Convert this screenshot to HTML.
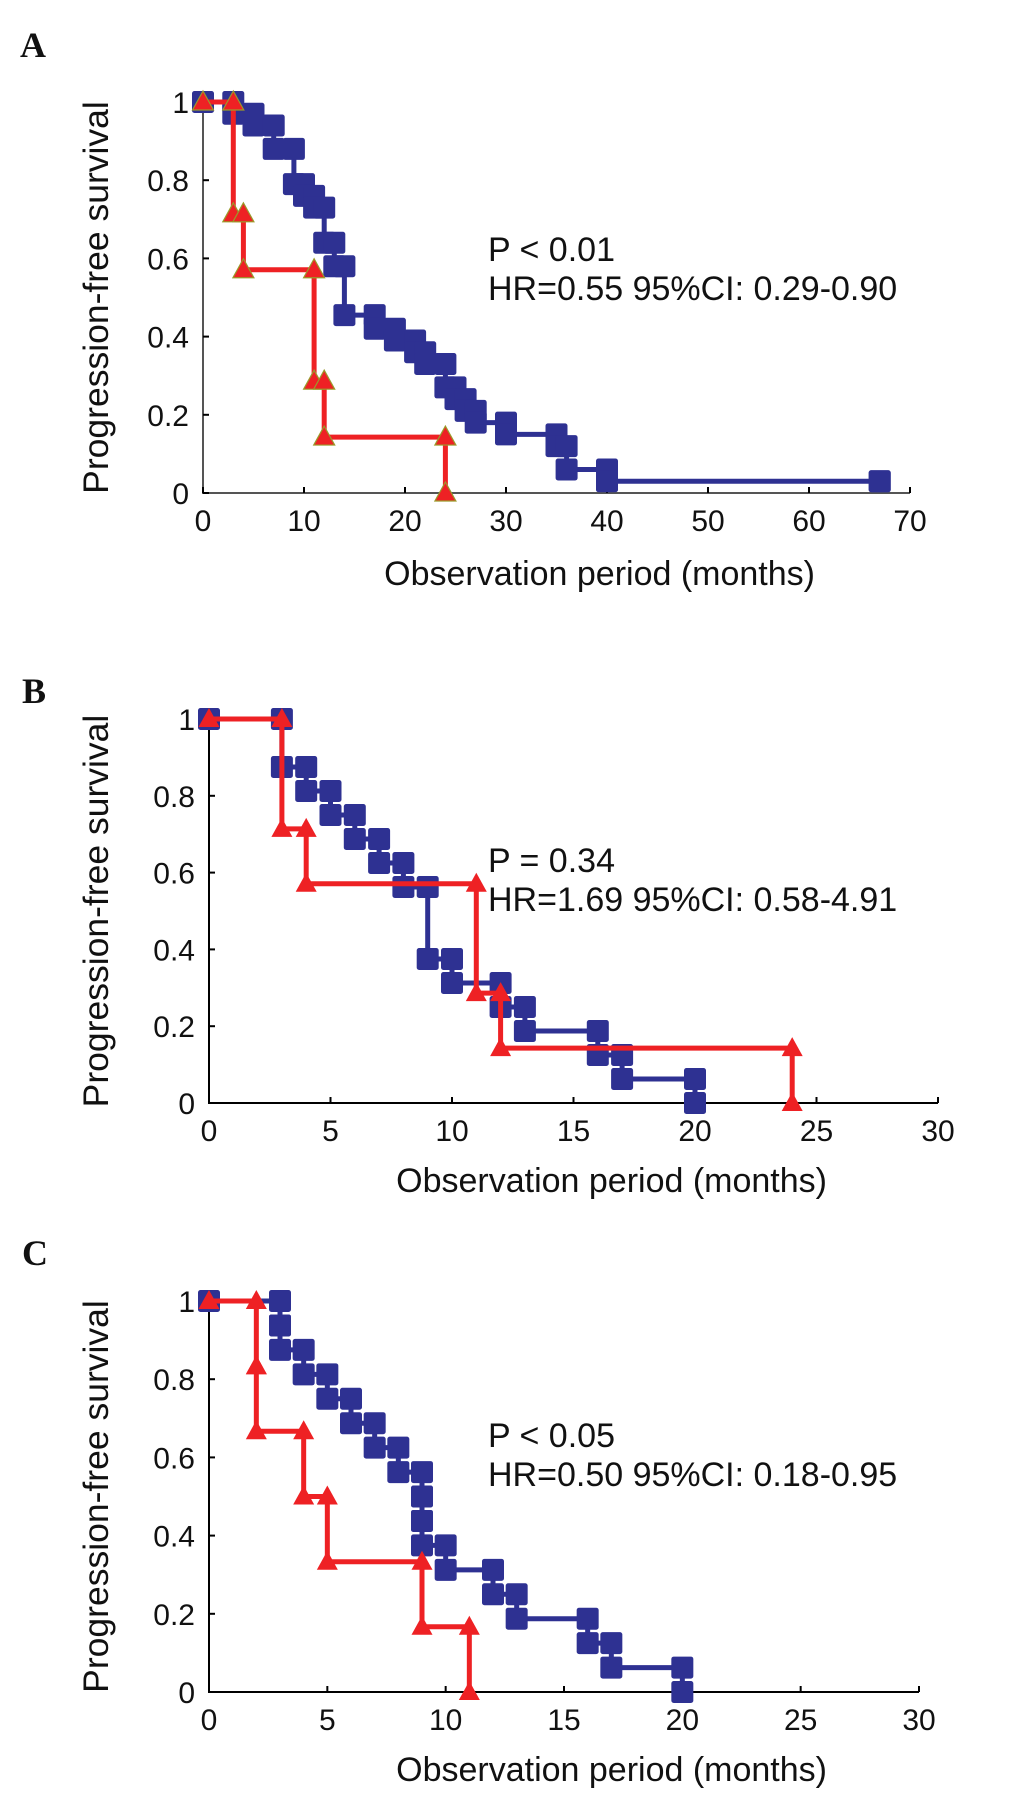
<!DOCTYPE html>
<html><head><meta charset="utf-8"><style>
html,body{margin:0;padding:0;background:#fff;}
svg{display:block;}
text{font-family:"Liberation Sans",sans-serif;fill:#111;}
.lbl{font-family:"Liberation Serif",serif;font-weight:bold;font-size:36px;}
</style></head><body>
<svg id="fig" width="1033" height="1802" viewBox="0 0 1033 1802" xmlns="http://www.w3.org/2000/svg">
<rect width="1033" height="1802" fill="#fff"/>
<text class="lbl" x="20" y="57">A</text>
<text class="lbl" x="22" y="703">B</text>
<text class="lbl" x="22" y="1265">C</text>
</svg>
<script>
// Panel A data
const aBlueTimes = [3,5,7,9,10,11,12,13,14,17,19,21,22,24,25,26,27,30,35,36,40,67];
const aBlueSurv  = [0.97,0.94,0.88,0.79,0.76,0.73,0.64,0.58,0.455,0.42,0.39,0.36,0.33,0.27,0.24,0.21,0.18,0.15,0.12,0.06,0.03,0.03];
const aRedTimes = [3,4,11,12,24];
const aRedSurv  = [0.714,0.571,0.286,0.143,0];
const aXTicks = [0,10,20,30,40,50,60,70];
// Panel B data
const bBlueTimes = [3,4,5,6,7,8,9,10,12,13,16,17,20];
const bBlueSurv  = [0.875,0.8125,0.75,0.6875,0.625,0.5625,0.375,0.3125,0.25,0.1875,0.125,0.0625,0];
const bRedTimes = [3,4,11,12,24];
const bRedSurv  = [0.714,0.571,0.286,0.143,0];
const bXTicks = [0,5,10,15,20,25,30];
// Panel C data
const cBlueTimes = [3,3,4,5,6,7,8,9,9,9,10,12,13,16,17,20];
const cBlueSurv  = [0.9375,0.875,0.8125,0.75,0.6875,0.625,0.5625,0.5,0.4375,0.375,0.3125,0.25,0.1875,0.125,0.0625,0];
const cRedTimes = [2,2,4,5,9,11];
const cRedSurv  = [0.833,0.667,0.5,0.333,0.167,0];
const cXTicks = [0,5,10,15,20,25,30];
const yTicks = [0,0.2,0.4,0.6,0.8,1];
const yTickLabels = ["0","0.2","0.4","0.6","0.8","1"];
const statsA = ["P < 0.01","HR=0.55 95%CI: 0.29-0.90"];
const statsB = ["P = 0.34","HR=1.69 95%CI: 0.58-4.91"];
const statsC = ["P < 0.05","HR=0.50 95%CI: 0.18-0.95"];

const NS="http://www.w3.org/2000/svg";
const svg=document.getElementById('fig');
const BLUE="#2E3192", RED="#EE2124";
function mk(tag,attrs,parent){const e=document.createElementNS(NS,tag);for(const k in attrs)e.setAttribute(k,attrs[k]);(parent||svg).appendChild(e);return e;}

function panel(id,cfg){
  const g=mk('g',{});
  
  
  const xs=t=>cfg.x0+(t/cfg.xMax)*(cfg.x1-cfg.x0);
  const ys=s=>cfg.y0-s*(cfg.y0-cfg.y1);
  const ax=mk('path',{d:`M${cfg.x0},${ys(1)} L${cfg.x0},${cfg.y0} L${cfg.x1},${cfg.y0}`,fill:'none',stroke:cfg.axisColor,'stroke-width':2},g);
  
  
  cfg.xTicks.forEach(t=>{
    const tk=mk('line',{x1:xs(t),x2:xs(t),y1:cfg.y0,y2:cfg.y0-6,stroke:'#000','stroke-width':2},g);
    
    
    const tl=mk('text',{x:xs(t),y:cfg.y0+38,'text-anchor':'middle','font-size':30},g);
    tl.textContent=String(t);
    
    
  });
  yTicks.forEach((v,i)=>{
    const tk=mk('line',{x1:cfg.x0,x2:cfg.x0+6,y1:ys(v),y2:ys(v),stroke:'#000','stroke-width':2},g);
    
    
    const tl=mk('text',{x:cfg.x0-14,y:ys(v)+11,'text-anchor':'end','font-size':30},g);
    tl.textContent=yTickLabels[i];
    
    
  });
  const yt=mk('text',{x:0,y:0,'text-anchor':'middle','font-size':35.5,transform:`translate(108,${(cfg.y0+ys(1))/2}) rotate(-90)`},g);
  yt.textContent='Progression-free survival';
  
  
  const xt=mk('text',{x:cfg.titleEnd,y:cfg.y0+cfg.titleOff,'text-anchor':'end','font-size':34},g);
  xt.textContent='Observation period (months)';
  
  
  cfg.stats.forEach((s,i)=>{
    const st=mk('text',{x:488,y:cfg.statY+i*39,'font-size':34},g);
    st.textContent=s;
    
    
  });
  function series(times,surv,color,kind,name){
    const sg=mk('g',{},g);
    
    
    let d=`M${xs(0)},${ys(1)}`, prev=1; const pts=[[0,1]];
    times.forEach((t,i)=>{d+=` L${xs(t)},${ys(prev)} L${xs(t)},${ys(surv[i])}`;pts.push([t,prev]);pts.push([t,surv[i]]);prev=surv[i];});
    const p=mk('path',{d,fill:'none',stroke:color,'stroke-width':5},sg);
    
    
    pts.forEach(([t,s])=>{
      const cx=xs(t),cy=ys(s);
      let m;
      if(kind==='sq'){m=mk('rect',{x:cx-11,y:cy-11,width:22,height:22,rx:2.5,fill:color},sg);}
      else{m=mk('polygon',{points:`${cx},${cy-11} ${cx-10.5},${cy+8} ${cx+10.5},${cy+8}`,fill:color,stroke:cfg.triStroke,'stroke-width':cfg.triStroke==='none'?0:1.2},sg);}
      
      
    });
  }
  series(cfg.blueT,cfg.blueS,BLUE,'sq','series-blue-'+id);
  series(cfg.redT,cfg.redS,RED,'tri','series-red-'+id);
}
panel('a',{x0:203,x1:910,xMax:70,y0:493,y1:102,xTicks:aXTicks,axisColor:'#555',titleEnd:815,titleOff:92,stats:statsA,statY:261,blueT:aBlueTimes,blueS:aBlueSurv,redT:aRedTimes,redS:aRedSurv,triStroke:'#9a9a2a'});
panel('b',{x0:209,x1:938,xMax:30,y0:1103,y1:719,xTicks:bXTicks,axisColor:'#000',titleEnd:827,titleOff:89,stats:statsB,statY:872,blueT:bBlueTimes,blueS:bBlueSurv,redT:bRedTimes,redS:bRedSurv,triStroke:'none'});
panel('c',{x0:209,x1:919,xMax:30,y0:1692,y1:1301,xTicks:cXTicks,axisColor:'#000',titleEnd:827,titleOff:89,stats:statsC,statY:1447,blueT:cBlueTimes,blueS:cBlueSurv,redT:cRedTimes,redS:cRedSurv,triStroke:'none'});
</script>
</body></html>
